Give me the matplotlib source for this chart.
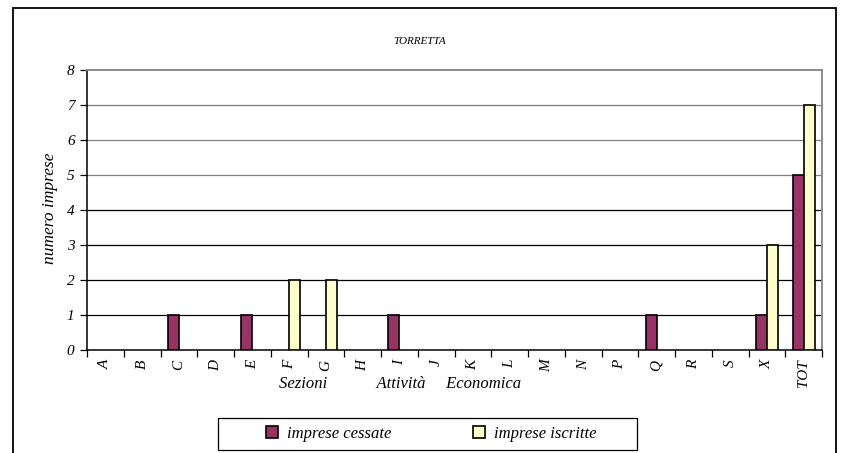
import numpy as np
import matplotlib
matplotlib.use("Agg")
import matplotlib.pyplot as plt
from matplotlib.patches import Rectangle
from matplotlib.ticker import FixedLocator

# --- Data ---
categories = ["A", "B", "C", "D", "E", "F", "G", "H", "I", "J", "K", "L",
              "M", "N", "P", "Q", "R", "S", "X", "TOT"]
cessate = [0, 0, 1, 0, 1, 0, 0, 0, 1, 0, 0, 0, 0, 0, 0, 1, 0, 0, 1, 5]
iscritte = [0, 0, 0, 0, 0, 2, 2, 0, 0, 0, 0, 0, 0, 0, 0, 0, 0, 0, 3, 7]

PURPLE = "#993366"
YELLOW = "#FFFFCC"
BAR_W = 0.30

plt.rcParams["font.family"] = ["Liberation Serif", "DejaVu Serif"]
plt.rcParams["font.style"] = "italic"

fig = plt.figure(figsize=(8.41, 4.53), dpi=100)
ax = fig.add_axes([87 / 841, 1 - 350 / 453, 735 / 841, 280 / 453])

x = np.arange(len(categories))
# zero-height bars are not drawn (no edge line on the axis)
h_cess = np.where(np.array(cessate) > 0, cessate, np.nan)
h_iscr = np.where(np.array(iscritte) > 0, iscritte, np.nan)
ax.bar(x - BAR_W / 2, h_cess, BAR_W, color=PURPLE, edgecolor="black",
       linewidth=1.2, label="imprese cessate", zorder=3)
ax.bar(x + BAR_W / 2, h_iscr, BAR_W, color=YELLOW, edgecolor="black",
       linewidth=1.2, label="imprese iscritte", zorder=3)

ax.set_xlim(-0.5, len(categories) - 0.5)
ax.set_ylim(0, 8)
ax.set_yticks(range(0, 9))
for level in range(1, 8):
    ax.axhline(level, color="black" if level < 5 else "#7f7f7f",
               linewidth=0.9, zorder=1)

ax.set_xticks(x)
ax.set_xticklabels(categories, rotation=90, fontsize=11)
ax.xaxis.set_minor_locator(FixedLocator(np.arange(-0.5, len(categories), 1)))
ax.tick_params(axis="x", which="major", length=0, pad=7)
ax.tick_params(axis="x", which="minor", length=5, direction="out", width=0.9)
ax.tick_params(axis="y", length=5, width=0.9, labelsize=11, pad=4)

for side in ("left", "bottom"):
    ax.spines[side].set_color("black")
    ax.spines[side].set_linewidth(1.1)
for side in ("top", "right"):
    ax.spines[side].set_color("#8c8c8c")
    ax.spines[side].set_linewidth(1.4)

fig.text(420 / 841, 1 - 42 / 453, "TORRETTA", fontsize=8,
         ha="center", va="center")
ax.set_ylabel("numero imprese", fontsize=12.5)
ax.yaxis.set_label_coords((58 - 87) / 735, (350 - 208) / 280)
ax.set_xlabel("Sezioni            Attività     Economica", fontsize=12,
              va="center")
ax.xaxis.set_label_coords((400 - 87) / 735, (350 - 384) / 280)

# Outer chart frame
fig.patches.append(Rectangle((13 / 841, -0.1), (836 - 13) / 841, 1.1 - 8 / 453,
                             transform=fig.transFigure, fill=False,
                             edgecolor="black", linewidth=1.3))

# Legend box
fig.patches.append(Rectangle((218 / 841, 1 - 450 / 453), 419 / 841, 32 / 453,
                             transform=fig.transFigure, facecolor="white",
                             edgecolor="black", linewidth=0.9))
fig.legend(loc="center", bbox_to_anchor=(431 / 841, 1 - 434 / 453),
           ncol=2, fontsize=12, frameon=False, handlelength=0.75,
           handleheight=0.75, handletextpad=0.5, columnspacing=4.9)

fig.savefig("out.png", dpi=100)
